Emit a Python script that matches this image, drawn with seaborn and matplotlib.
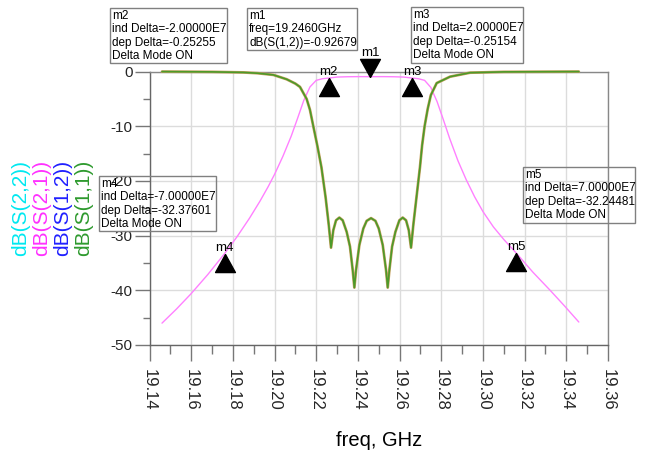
import numpy as np
import pandas as pd
import seaborn as sns
import matplotlib
matplotlib.use("Agg")
import matplotlib.pyplot as plt
from matplotlib.path import Path
from matplotlib.markers import MarkerStyle
from matplotlib.patches import Rectangle
from matplotlib.ticker import MultipleLocator

# ---------------- data ----------------
freq_s21 = [19.146, 19.153, 19.160, 19.168, 19.176, 19.182, 19.188, 19.193, 19.197, 19.200,
            19.204, 19.208, 19.211, 19.214, 19.217, 19.220, 19.223, 19.226, 19.230, 19.235,
            19.240, 19.246, 19.252, 19.257, 19.262, 19.266, 19.269, 19.272, 19.275, 19.278,
            19.281, 19.284, 19.288, 19.292, 19.296, 19.300, 19.305, 19.310, 19.316, 19.324,
            19.332, 19.339, 19.346]
db_s21 = [-46.0, -43.4, -40.6, -37.1, -33.3, -30.2, -26.8, -23.7, -21.0, -18.8,
          -15.5, -11.8, -8.6, -5.3, -2.8, -1.6, -1.3, -1.18, -1.0, -0.94,
          -0.92, -0.927, -0.92, -0.94, -1.0, -1.18, -1.3, -1.6, -2.9, -5.5,
          -8.8, -12.2, -16.3, -19.8, -22.9, -25.6, -28.4, -30.7, -33.2, -36.7,
          -39.9, -42.8, -45.8]

freq_s11 = [19.146, 19.170, 19.185, 19.192, 19.1994, 19.2058, 19.2100, 19.2122, 19.2154, 19.2170,
            19.2186, 19.2205, 19.2225, 19.2245, 19.2260, 19.2271, 19.2282, 19.2295, 19.2311, 19.2327,
            19.2346, 19.2362, 19.2375, 19.2383, 19.2391, 19.2407, 19.2426, 19.2442, 19.2463, 19.2484,
            19.2500, 19.2519, 19.2535, 19.2543, 19.2551, 19.2564, 19.2580, 19.2599, 19.2615, 19.2631,
            19.2644, 19.2655, 19.2666, 19.2681, 19.2698, 19.2708, 19.2720, 19.2735, 19.2750, 19.2778,
            19.2842, 19.2938, 19.310, 19.346]
db_s11 = [0.0, -0.05, -0.15, -0.3, -0.6, -1.4, -2.2, -2.8, -5.0, -7.0,
          -10.0, -13.5, -17.5, -23.0, -28.0, -32.2, -29.0, -27.2, -26.7, -27.2,
          -29.3, -32.0, -36.3, -39.5, -36.3, -31.7, -28.7, -27.3, -26.8, -27.3,
          -28.7, -31.7, -36.3, -39.5, -36.3, -32.0, -29.3, -27.2, -26.7, -27.2,
          -29.0, -32.2, -28.0, -23.0, -17.4, -13.5, -10.0, -6.8, -4.3, -2.1,
          -0.93, -0.2, -0.05, 0.0]

marker_names = ["m1", "m2", "m3", "m4", "m5"]
marker_freq = [19.246, 19.226, 19.266, 19.176, 19.316]
marker_db = [-0.927, -1.179, -1.178, -33.303, -33.172]

x_ticks = [19.14, 19.16, 19.18, 19.20, 19.22, 19.24, 19.26, 19.28, 19.30, 19.32, 19.34, 19.36]
x_tick_labels = ["19.14", "19.16", "19.18", "19.20", "19.22", "19.24", "19.26", "19.28",
                 "19.30", "19.32", "19.34", "19.36"]
y_ticks = [0, -10, -20, -30, -40, -50]
y_tick_labels = ["0", "-10", "-20", "-30", "-40", "-50"]

legend_labels = ["dB(S(2,2))", "dB(S(2,1))", "dB(S(1,2))", "dB(S(1,1))"]
legend_colors = ["#00e8f0", "#ff30ff", "#2020ff", "#2e9a2e"]

box_texts = {
    "m2": ["m2", "ind Delta=-2.00000E7", "dep Delta=-0.25255", "Delta Mode ON"],
    "m1": ["m1", "freq=19.2460GHz", "dB(S(1,2))=-0.92679"],
    "m3": ["m3", "ind Delta=2.00000E7", "dep Delta=-0.25154", "Delta Mode ON"],
    "m4": ["m4", "ind Delta=-7.00000E7", "dep Delta=-32.37601", "Delta Mode ON"],
    "m5": ["m5", "ind Delta=7.00000E7", "dep Delta=-32.24481", "Delta Mode ON"],
}

# ---------------- figure ----------------
sns.set_theme(style="white")
plt.rcParams["font.family"] = ["Liberation Sans", "DejaVu Sans"]

W, H = 646, 457
fig = plt.figure(figsize=(W / 100, H / 100), dpi=100)
fig.patch.set_facecolor("white")
ax = fig.add_axes([149.5 / W, 1 - 345 / H, (608 - 149.5) / W, (345 - 71.6) / H])
ax.set_facecolor("white")

df21 = pd.DataFrame({"freq": freq_s21, "dB": db_s21})
df11 = pd.DataFrame({"freq": freq_s11, "dB": db_s11})

sns.lineplot(data=df21, x="freq", y="dB", ax=ax, color="#ff80ff", linewidth=1.0,
             clip_on=False, zorder=3)
sns.lineplot(data=df11, x="freq", y="dB", ax=ax, color="#c8a060", linewidth=2.0,
             clip_on=False, zorder=4)
sns.lineplot(data=df11, x="freq", y="dB", ax=ax, color="#4c9a2a", linewidth=1.2,
             clip_on=False, zorder=4)

ax.set_xlim(19.14, 19.36)
ax.set_ylim(-50, 0)
ax.set_xlabel("")
ax.set_ylabel("")

ax.set_xticks(x_ticks)
ax.set_xticklabels(x_tick_labels)
ax.set_yticks(y_ticks)
ax.set_yticklabels(y_tick_labels)
ax.xaxis.set_minor_locator(MultipleLocator(0.01))
ax.yaxis.set_minor_locator(MultipleLocator(5))

ax.tick_params(axis="x", which="major", length=11.5, width=1, color="#777777",
               direction="out", pad=6, labelsize=12, labelrotation=-90, bottom=True)
ax.tick_params(axis="x", which="minor", length=6.5, width=1, color="#777777",
               direction="out", bottom=True)
ax.tick_params(axis="y", which="major", length=11, width=1, color="#777777",
               direction="out", pad=1, labelsize=11, left=True)
ax.tick_params(axis="y", which="minor", length=5, width=1, color="#777777",
               direction="out", left=True)

ax.grid(True, which="major", color="#dcdcdc", linewidth=1)
ax.set_axisbelow(True)
for side, sp in ax.spines.items():
    sp.set_visible(True)
    sp.set_color("#888888" if side in ("top", "right") else "#666666")
    sp.set_linewidth(1)

# markers (triangle tip at the marker point)
up_tri = MarkerStyle(Path([(0, 0), (-0.55, -1), (0.55, -1), (0, 0)]))
down_tri = MarkerStyle(Path([(0, 0), (-0.55, 1), (0.55, 1), (0, 0)]))
for name, f, d in zip(marker_names, marker_freq, marker_db):
    if name == "m1":
        ax.plot([f], [d], linestyle="none", marker=down_tri, markersize=26,
                color="black", clip_on=False, zorder=6)
        ax.annotate(name, (f, d), xytext=(0, 15), textcoords="offset points",
                    ha="center", va="baseline", fontsize=9.5, color="black",
                    annotation_clip=False, zorder=7)
    else:
        ax.plot([f], [d], linestyle="none", marker=up_tri, markersize=26,
                color="black", clip_on=False, zorder=6)
        ax.annotate(name, (f, d), xytext=(0, 2), textcoords="offset points",
                    ha="center", va="baseline", fontsize=9.5, color="black",
                    annotation_clip=False, zorder=7)

# marker readout boxes (pixel layout)
boxes = {
    "m2": (110, 8, 227, 63),
    "m1": (247, 8, 357, 50),
    "m3": (411, 7, 523, 63),
    "m4": (99, 176, 216, 231),
    "m5": (523, 167, 635, 223),
}
for key, (x0, y0, x1, y1) in boxes.items():
    fig.add_artist(Rectangle((x0 / W, 1 - y1 / H), (x1 - x0) / W, (y1 - y0) / H,
                             transform=fig.transFigure, fill=False,
                             edgecolor="#808080", linewidth=1, zorder=10))
    for i, line in enumerate(box_texts[key]):
        fig.text((x0 + 2) / W, 1 - (y0 + 8 + 13.4 * i) / H, line, ha="left",
                 va="center", fontsize=8.5, color="black", zorder=11)

# rotated trace legend
for xc, lab, col in zip([20.5, 41.5, 62.5, 83.5], legend_labels, legend_colors):
    fig.text(xc / W, 1 - 208 / H, lab, rotation=90, ha="center", va="center",
             fontsize=15, color=col)

fig.text(379.5 / W, 1 - 441 / H, "freq, GHz", ha="center", va="center", fontsize=14.5,
         color="black")

fig.savefig("out.png", dpi=100)
